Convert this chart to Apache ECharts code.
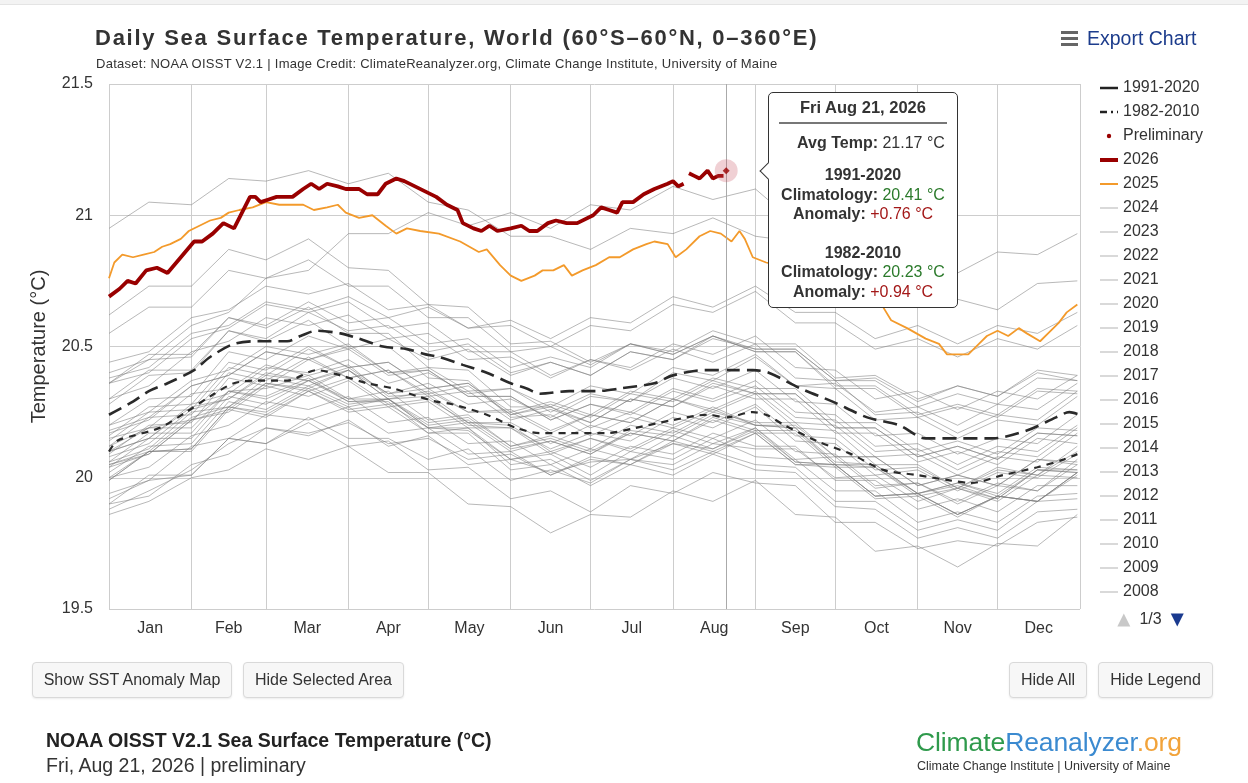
<!DOCTYPE html>
<html>
<head>
<meta charset="utf-8">
<script src="https://cdn.jsdelivr.net/npm/echarts@6/dist/echarts.min.js"></script>
<style>
html,body{margin:0;padding:0;background:#fff;}
body{width:1248px;height:783px;position:relative;overflow:hidden;font-family:'Liberation Sans',Arial,sans-serif;color:#333;}
#topbar{position:absolute;left:0;top:0;width:1248px;height:4px;background:#f3f3f3;border-bottom:1px solid #e4e4e4;z-index:2;}
#chart{position:absolute;left:0;top:0;width:1248px;height:783px;}
#title{position:absolute;left:95px;top:25px;font-size:22px;line-height:26px;font-weight:bold;letter-spacing:1.75px;color:#333;white-space:nowrap;z-index:2;}
#subtitle{position:absolute;left:96px;top:56px;font-size:13px;line-height:16px;letter-spacing:0.27px;color:#333;white-space:nowrap;z-index:2;}
.btn{position:absolute;top:662px;height:36px;box-sizing:border-box;border:1px solid #d9d9d9;border-radius:4px;background:#f7f7f7;font-size:16px;line-height:34px;text-align:center;color:#333;box-shadow:0 1px 2px rgba(0,0,0,0.08);z-index:2;}
#export{position:absolute;left:1060px;top:26px;height:24px;z-index:2;}
#export .bars{position:absolute;left:1px;top:5px;width:17px;}
#export .bars div{height:3px;background:#666;margin-bottom:3px;}
#export .txt{position:absolute;left:27px;top:0;font-size:19.5px;line-height:24px;color:#1c3c8c;white-space:nowrap;}
#foot1{position:absolute;left:46px;top:729px;font-size:19.5px;font-weight:bold;color:#222;white-space:nowrap;z-index:2;}
#foot2{position:absolute;left:46px;top:754px;font-size:19.5px;color:#333;white-space:nowrap;z-index:2;}
#logo{position:absolute;left:916px;top:727px;font-size:26.5px;white-space:nowrap;z-index:2;letter-spacing:-0.1px;}
#logo2{position:absolute;left:917px;top:759px;font-size:12.5px;color:#333;white-space:nowrap;z-index:2;}
</style>
</head>
<body>
<div id="topbar"></div>
<div id="chart"></div>
<div id="title">Daily Sea Surface Temperature, World (60°S–60°N, 0–360°E)</div>
<div id="subtitle">Dataset: NOAA OISST V2.1 | Image Credit: ClimateReanalyzer.org, Climate Change Institute, University of Maine</div>
<div id="export"><div class="bars"><div></div><div></div><div></div></div><div class="txt">Export Chart</div></div>
<div class="btn" style="left:32px;width:200px;">Show SST Anomaly Map</div>
<div class="btn" style="left:243px;width:161px;">Hide Selected Area</div>
<div class="btn" style="left:1009px;width:78px;">Hide All</div>
<div class="btn" style="left:1098px;width:115px;">Hide Legend</div>
<div id="foot1">NOAA OISST V2.1 Sea Surface Temperature (°C)</div>
<div id="foot2">Fri, Aug 21, 2026 | preliminary</div>
<div id="logo"><span style="color:#2f9a4c">Climate</span><span style="color:#3b8ad0">Reanalyzer</span><span style="color:#f2a33a">.org</span></div>
<div id="logo2">Climate Change Institute | University of Maine</div>
<script>
// ---------- axis definitions ----------
const monthNames = ['Jan','Feb','Mar','Apr','May','Jun','Jul','Aug','Sep','Oct','Nov','Dec'];
const monthStarts = [0,31,59,90,120,151,181,212,243,273,304,334,365];
const monthMids = [15.5,45,74.5,105,135.5,166,196.5,227.5,258,288.5,319,349.5];
const yMin = 19.5, yMax = 21.5, yStep = 0.5;

// ---------- climatologies ----------
const days9120 = [0,9,15,22,32,38,47,56,67,72,78,87,94,103,112,119,124,133,142,151,157,162,173,183,192,205,212,224,232,242,248,260,272,285,297,307,320,332,345,356,361,365];
const clim9120 = [20.24,20.29,20.33,20.36,20.41,20.46,20.51,20.52,20.52,20.54,20.56,20.55,20.53,20.50,20.49,20.47,20.46,20.43,20.40,20.36,20.34,20.32,20.33,20.33,20.34,20.36,20.39,20.41,20.41,20.41,20.40,20.34,20.29,20.23,20.20,20.15,20.15,20.15,20.18,20.23,20.25,20.24];
const days8210 = [0,3,9,19,29,38,47,56,67,78,87,97,107,116,123,129,142,153,162,173,187,198,212,225,232,242,247,254,266,279,291,304,316,324,336,349,359,364];
const clim8210 = [20.10,20.14,20.16,20.19,20.25,20.31,20.36,20.37,20.37,20.41,20.39,20.36,20.34,20.31,20.29,20.28,20.24,20.19,20.17,20.17,20.17,20.19,20.22,20.24,20.23,20.25,20.24,20.20,20.14,20.09,20.03,20.01,19.99,19.98,20.01,20.04,20.07,20.09];

// ---------- 2026 (null = missing day) ----------
const days2026 = [0,4,7,10,14,18,22,27,32,35,39,43,47,50,53,55,57,60,63,69,73,76,79,82,86,89,94,97,101,104,108,111,115,119,123,127,131,133,137,140,143,146,151,155,158,161,165,168,172,176,182,185,188,191,193,197,201,205,210,212,214,216,217,218,220,222,225,227,229,231];
const sst2026 = [20.69,20.72,20.75,20.74,20.79,20.80,20.78,20.84,20.90,20.90,20.93,20.97,20.95,21.01,21.07,21.07,21.05,21.06,21.07,21.07,21.10,21.12,21.10,21.12,21.11,21.10,21.10,21.08,21.08,21.12,21.14,21.13,21.11,21.09,21.07,21.04,21.02,20.97,20.95,20.94,20.96,20.94,20.95,20.96,20.94,20.94,20.97,20.98,20.97,20.97,21.00,21.03,21.02,21.01,21.05,21.05,21.08,21.10,21.12,21.13,21.11,21.12,null,21.16,21.15,21.14,21.17,21.14,21.15,21.15];
const prelimDay = [232];
const prelimVal = [21.17];

// ---------- 2025 ----------
const days2025 = [0,2,5,9,13,17,20,23,27,30,34,38,42,45,49,54,59,64,69,73,77,82,86,89,94,99,104,108,112,117,124,132,139,142,147,151,155,160,163,167,171,174,178,183,188,192,197,202,205,210,213,217,222,226,230,234,237,239,242,247,255,265,275,285,291,294,300,307,312,315,319,323,327,330,334,338,342,345,350,353,357,360,364];
const sst2025 = [20.76,20.82,20.85,20.84,20.85,20.86,20.88,20.89,20.91,20.94,20.96,20.98,20.99,21.01,21.02,21.03,21.05,21.04,21.04,21.04,21.02,21.03,21.04,21.01,20.99,21.00,20.96,20.93,20.95,20.94,20.93,20.90,20.86,20.87,20.81,20.77,20.75,20.77,20.79,20.79,20.81,20.77,20.79,20.81,20.84,20.84,20.87,20.89,20.90,20.89,20.84,20.87,20.92,20.94,20.93,20.90,20.94,20.91,20.84,20.82,20.80,20.77,20.74,20.70,20.65,20.60,20.57,20.53,20.51,20.47,20.47,20.47,20.51,20.54,20.56,20.54,20.57,20.55,20.52,20.55,20.59,20.63,20.66];

// ---------- earlier years (sampled) ----------
const sampleDays = [0,15,31,45,59,75,90,105,120,135,151,166,181,196,212,227,243,258,273,288,304,319,334,349,364];
const sst1982 = [19.88,19.95,20.03,20.13,20.19,20.16,20.22,20.12,20.16,20.05,20.07,20.02,20.06,20.07,20.13,20.11,20.19,20.07,20.08,19.96,19.98,19.91,19.98,19.95,20.07];
const sst1983 = [20.12,20.19,20.22,20.33,20.34,20.39,20.30,20.30,20.19,20.18,20.07,20.09,20.01,20.10,20.07,20.15,20.08,20.07,19.95,19.95,19.83,19.87,19.83,19.93,19.94];
const sst1984 = [19.92,19.99,20.01,20.15,20.13,20.21,20.12,20.14,20.03,20.04,19.92,19.95,19.87,19.97,19.94,20.02,19.98,19.97,19.83,19.83,19.73,19.76,19.74,19.83,19.85];
const sst1985 = [19.86,19.91,20.00,20.03,20.11,20.07,20.12,20.02,20.02,19.90,19.89,19.79,19.86,19.85,19.95,19.91,19.99,19.86,19.85,19.72,19.74,19.66,19.75,19.74,19.86];
const sst1986 = [19.90,20.01,20.01,20.15,20.13,20.23,20.15,20.15,20.07,20.11,19.99,20.03,19.98,20.07,20.05,20.13,20.11,20.11,20.00,20.01,19.91,19.96,19.92,20.03,20.03];
const sst1987 = [20.06,20.11,20.25,20.27,20.38,20.35,20.41,20.30,20.33,20.25,20.25,20.17,20.24,20.21,20.30,20.25,20.32,20.19,20.18,20.05,20.05,19.96,20.04,20.01,20.10];
const sst1988 = [20.10,20.19,20.19,20.33,20.31,20.38,20.29,20.29,20.17,20.17,20.03,20.05,19.97,20.05,20.01,20.09,20.03,20.02,19.89,19.88,19.77,19.81,19.77,19.87,19.88];
const sst1989 = [19.90,19.93,20.05,20.09,20.19,20.17,20.21,20.13,20.15,20.07,20.09,20.01,20.07,20.05,20.13,20.09,20.17,20.05,20.04,19.92,19.93,19.85,19.93,19.91,20.02];
const sst1990 = [20.04,20.15,20.15,20.31,20.28,20.37,20.30,20.33,20.22,20.24,20.12,20.15,20.10,20.17,20.14,20.22,20.17,20.17,20.04,20.04,19.94,19.97,19.92,20.03,20.02];
const sst1991 = [20.05,20.09,20.22,20.25,20.35,20.31,20.37,20.27,20.29,20.19,20.19,20.11,20.17,20.14,20.23,20.19,20.27,20.14,20.13,20.01,20.03,19.95,20.02,20.00,20.09];
const sst1992 = [20.06,20.17,20.17,20.33,20.30,20.37,20.29,20.30,20.19,20.19,20.05,20.07,19.99,20.07,20.03,20.10,20.05,20.04,19.91,19.91,19.80,19.84,19.80,19.91,19.92];
const sst1993 = [19.94,19.99,20.12,20.15,20.24,20.22,20.27,20.17,20.19,20.09,20.10,20.01,20.08,20.05,20.14,20.10,20.17,20.05,20.05,19.93,19.94,19.86,19.93,19.91,20.01];
const sst1994 = [19.99,20.10,20.10,20.26,20.23,20.33,20.26,20.28,20.19,20.21,20.10,20.14,20.09,20.18,20.16,20.24,20.20,20.20,20.08,20.08,19.97,20.01,19.97,20.07,20.06];
const sst1995 = [20.10,20.15,20.27,20.30,20.40,20.37,20.41,20.30,20.31,20.20,20.19,20.09,20.15,20.11,20.19,20.15,20.22,20.10,20.09,19.97,19.98,19.90,19.97,19.95,20.05];
const sst1996 = [20.00,20.10,20.11,20.27,20.24,20.33,20.25,20.27,20.17,20.19,20.07,20.10,20.04,20.12,20.09,20.17,20.12,20.12,19.99,19.99,19.88,19.92,19.87,19.97,19.97];
const sst1997 = [20.04,20.09,20.22,20.26,20.36,20.34,20.41,20.32,20.36,20.28,20.30,20.23,20.31,20.29,20.40,20.37,20.46,20.35,20.36,20.25,20.27,20.20,20.28,20.26,20.36];
const sst1998 = [20.36,20.47,20.47,20.61,20.57,20.65,20.55,20.55,20.42,20.41,20.27,20.27,20.19,20.25,20.20,20.27,20.20,20.19,20.05,20.04,19.93,19.96,19.91,20.01,20.00];
const sst1999 = [20.00,20.04,20.16,20.20,20.29,20.26,20.31,20.21,20.23,20.13,20.14,20.05,20.11,20.07,20.16,20.11,20.18,20.06,20.05,19.93,19.94,19.86,19.93,19.91,20.02];
const sst2000 = [20.02,20.12,20.13,20.29,20.26,20.35,20.28,20.30,20.20,20.22,20.11,20.14,20.09,20.17,20.14,20.23,20.18,20.18,20.05,20.05,19.94,19.98,19.94,20.04,20.03];
const sst2001 = [20.08,20.13,20.26,20.30,20.39,20.37,20.42,20.32,20.34,20.25,20.26,20.18,20.24,20.21,20.30,20.26,20.33,20.21,20.20,20.08,20.09,20.01,20.08,20.06,20.17];
const sst2002 = [20.14,20.25,20.26,20.42,20.39,20.49,20.42,20.44,20.34,20.36,20.25,20.29,20.24,20.33,20.30,20.38,20.34,20.34,20.21,20.21,20.10,20.14,20.09,20.19,20.18];
const sst2003 = [20.20,20.25,20.37,20.41,20.50,20.47,20.51,20.40,20.41,20.31,20.31,20.22,20.28,20.25,20.34,20.30,20.37,20.25,20.24,20.12,20.13,20.05,20.12,20.10,20.20];
const sst2004 = [20.16,20.27,20.28,20.44,20.41,20.50,20.42,20.44,20.34,20.36,20.24,20.27,20.21,20.30,20.27,20.35,20.30,20.30,20.17,20.17,20.06,20.10,20.05,20.15,20.13];
const sst2005 = [20.17,20.22,20.35,20.39,20.48,20.45,20.49,20.39,20.41,20.31,20.31,20.22,20.28,20.24,20.33,20.29,20.35,20.23,20.22,20.10,20.11,20.03,20.10,20.08,20.19];
const sst2006 = [20.12,20.23,20.24,20.40,20.37,20.46,20.38,20.41,20.31,20.33,20.22,20.26,20.21,20.30,20.27,20.36,20.32,20.32,20.19,20.19,20.08,20.12,20.07,20.17,20.16];
const sst2007 = [20.15,20.19,20.32,20.34,20.43,20.39,20.43,20.31,20.32,20.21,20.20,20.10,20.15,20.10,20.18,20.13,20.19,20.06,20.05,19.93,19.94,19.86,19.93,19.91,20.02];
const sst2008 = [19.99,20.10,20.11,20.27,20.25,20.34,20.27,20.30,20.21,20.23,20.12,20.16,20.11,20.20,20.17,20.25,20.21,20.21,20.08,20.08,19.97,20.01,19.97,20.07,20.05];
const sst2009 = [20.10,20.15,20.28,20.32,20.42,20.40,20.45,20.36,20.40,20.32,20.34,20.27,20.35,20.32,20.42,20.39,20.47,20.35,20.34,20.22,20.23,20.15,20.22,20.20,20.31];
const sst2010 = [20.30,20.41,20.41,20.56,20.52,20.60,20.50,20.50,20.38,20.37,20.23,20.24,20.16,20.23,20.19,20.26,20.20,20.19,20.06,20.05,19.94,19.98,19.93,20.03,20.02];
const sst2011 = [20.05,20.10,20.23,20.27,20.36,20.33,20.38,20.28,20.30,20.21,20.21,20.13,20.20,20.16,20.25,20.21,20.28,20.16,20.15,20.03,20.04,19.96,20.03,20.01,20.12];
const sst2012 = [20.09,20.20,20.21,20.38,20.35,20.45,20.38,20.41,20.32,20.35,20.24,20.28,20.23,20.32,20.29,20.37,20.32,20.32,20.19,20.19,20.08,20.12,20.07,20.17,20.16];
const sst2013 = [20.18,20.23,20.35,20.39,20.48,20.45,20.50,20.40,20.42,20.33,20.34,20.25,20.32,20.29,20.38,20.34,20.41,20.29,20.28,20.16,20.17,20.09,20.15,20.13,20.24];
const sst2014 = [20.20,20.30,20.31,20.48,20.45,20.54,20.49,20.53,20.45,20.49,20.39,20.44,20.39,20.48,20.45,20.53,20.49,20.49,20.37,20.37,20.27,20.32,20.28,20.38,20.37];
const sst2015 = [20.38,20.42,20.55,20.58,20.67,20.64,20.69,20.61,20.65,20.57,20.60,20.53,20.61,20.59,20.69,20.65,20.73,20.63,20.63,20.53,20.58,20.51,20.58,20.55,20.63];
const sst2016 = [20.62,20.73,20.73,20.87,20.83,20.91,20.80,20.79,20.66,20.65,20.51,20.52,20.44,20.51,20.47,20.54,20.48,20.48,20.35,20.35,20.24,20.28,20.24,20.34,20.33];
const sst2017 = [20.36,20.40,20.53,20.57,20.66,20.63,20.67,20.57,20.59,20.48,20.48,20.39,20.45,20.41,20.49,20.44,20.51,20.38,20.37,20.24,20.25,20.17,20.24,20.22,20.33];
const sst2018 = [20.28,20.39,20.40,20.56,20.53,20.63,20.56,20.58,20.48,20.51,20.40,20.44,20.39,20.48,20.45,20.54,20.49,20.49,20.37,20.38,20.29,20.35,20.31,20.41,20.39];
const sst2019 = [20.44,20.48,20.61,20.64,20.73,20.70,20.74,20.64,20.66,20.57,20.58,20.50,20.58,20.56,20.66,20.63,20.71,20.59,20.59,20.49,20.53,20.46,20.53,20.49,20.58];
const sst2020 = [20.55,20.65,20.65,20.79,20.76,20.83,20.73,20.73,20.61,20.61,20.48,20.50,20.43,20.51,20.47,20.54,20.48,20.48,20.34,20.34,20.23,20.27,20.23,20.33,20.32];
const sst2021 = [20.30,20.35,20.48,20.52,20.61,20.58,20.62,20.53,20.55,20.45,20.46,20.38,20.45,20.42,20.51,20.47,20.54,20.42,20.41,20.30,20.33,20.26,20.33,20.30,20.39];
const sst2022 = [20.36,20.45,20.46,20.61,20.58,20.67,20.59,20.61,20.51,20.53,20.42,20.46,20.42,20.51,20.48,20.56,20.51,20.51,20.38,20.39,20.30,20.35,20.31,20.40,20.37];
const sst2023 = [20.40,20.45,20.58,20.63,20.76,20.79,20.93,20.93,21.01,20.96,21.01,20.95,21.04,21.02,21.11,21.06,21.10,20.97,20.95,20.83,20.85,20.78,20.86,20.85,20.93];
const sst2024 = [20.95,21.05,21.04,21.14,21.13,21.17,21.12,21.16,21.05,21.02,20.92,20.92,20.87,20.95,20.93,20.99,20.92,20.90,20.77,20.75,20.65,20.68,20.64,20.74,20.75];

const grayYears = [
  ['2024',sst2024],['2023',sst2023],['2022',sst2022],['2021',sst2021],['2020',sst2020],['2019',sst2019],
  ['2018',sst2018],['2017',sst2017],['2016',sst2016],['2015',sst2015],['2014',sst2014],['2013',sst2013],
  ['2012',sst2012],['2011',sst2011],['2010',sst2010],['2009',sst2009],['2008',sst2008],['2007',sst2007],
  ['2006',sst2006],['2005',sst2005],['2004',sst2004],['2003',sst2003],['2002',sst2002],['2001',sst2001],
  ['2000',sst2000],['1999',sst1999],['1998',sst1998],['1997',sst1997],['1996',sst1996],['1995',sst1995],
  ['1994',sst1994],['1993',sst1993],['1992',sst1992],['1991',sst1991],['1990',sst1990],['1989',sst1989],
  ['1988',sst1988],['1987',sst1987],['1986',sst1986],['1985',sst1985],['1984',sst1984],['1983',sst1983],
  ['1982',sst1982]
];

// ---------- tooltip text ----------
const tipDate = 'Fri Aug 21, 2026';
const tipClim9120 = 20.41;
const tipClim8210 = 20.23;

// ---------- build ----------
const FONT = "'Liberation Sans', Arial, sans-serif";
const pair = (days, vals) => days.map((d, i) => [d, vals[i] === null ? '-' : vals[i]]);

const series = [];
grayYears.forEach(([name, arr]) => {
  series.push({
    name, type: 'line', data: pair(sampleDays, arr), symbol: 'none', silent: true, z: 1,
    lineStyle: { color: 'rgba(125,125,125,0.55)', width: 1 },
    itemStyle: { color: '#bbb' }
  });
});
series.push({
  name: '1982-2010', type: 'line', data: pair(days8210, clim8210), symbol: 'none', smooth: 0.3, silent: true, z: 3,
  lineStyle: { color: '#2a2a2a', width: 2.2, type: [7, 6] }, itemStyle: { color: '#2a2a2a' }
});
series.push({
  name: '1991-2020', type: 'line', data: pair(days9120, clim9120), symbol: 'none', smooth: 0.3, silent: true, z: 3,
  lineStyle: { color: '#2a2a2a', width: 2.6, type: [14, 7] }, itemStyle: { color: '#2a2a2a' }
});
series.push({
  name: '2025', type: 'line', data: pair(days2025, sst2025), symbol: 'none', silent: true, z: 4,
  lineStyle: { color: '#f39a2b', width: 1.8 }, itemStyle: { color: '#f39a2b' }
});
series.push({
  name: '2026', type: 'line', data: pair(days2026, sst2026), symbol: 'none', silent: true, z: 5, connectNulls: false,
  lineStyle: { color: '#990000', width: 3.8 }, itemStyle: { color: '#990000' }
});
const prelimIndex = series.length;
series.push({
  name: 'Preliminary', type: 'scatter', z: 6,
  data: [
    { value: [prelimDay[0], prelimVal[0]], symbol: 'circle', symbolSize: 23, itemStyle: { color: 'rgba(196,72,88,0.32)' } },
    { value: [prelimDay[0], prelimVal[0]], symbol: 'diamond', symbolSize: 7 }
  ],
  itemStyle: { color: '#990000' },
  emphasis: { disabled: true },
  markLine: {
    silent: true, symbol: 'none', label: { show: false },
    lineStyle: { color: '#aaa', width: 1, type: 'solid' },
    data: [{ xAxis: prelimDay[0] }]
  }
});

const grayLegend = grayYears.map(([name]) => ({ name, lineStyle: { color: '#cccccc', width: 1.5 } }));
const legendData = [
  { name: '1991-2020', lineStyle: { type: 'solid', width: 2.5, color: '#222' } },
  { name: '1982-2010', lineStyle: { type: [7, 4, 2, 4], width: 2.5, color: '#222' } },
  { name: 'Preliminary', icon: 'path://M0,0M18,14M6.8,7a2.2,2.2 0 1,0 4.4,0a2.2,2.2 0 1,0 -4.4,0z', itemStyle: { color: '#990000', opacity: 1 } },
  { name: '2026', lineStyle: { width: 4, color: '#990000' } },
  { name: '2025', lineStyle: { width: 2, color: '#f39a2b' } }
].concat(grayLegend);

const fmtAnom = v => (v >= 0 ? '+' : '') + v.toFixed(2);

const chart = echarts.init(document.getElementById('chart'), null, { renderer: 'canvas' });
chart.setOption({
  animation: false,
  textStyle: { fontFamily: FONT },
  grid: { left: 109, right: 168, top: 84, bottom: 174 },
  xAxis: {
    type: 'value', min: monthStarts[0], max: monthStarts[12],
    axisLine: { show: false },
    axisTick: { show: false, customValues: monthStarts },
    splitLine: { show: true, lineStyle: { color: '#cdcdcd', width: 1 } },
    axisLabel: {
      customValues: monthMids, fontSize: 16, color: '#333', margin: 12, fontFamily: FONT,
      formatter: v => monthNames[monthMids.indexOf(v)] || ''
    }
  },
  yAxis: {
    type: 'value', min: yMin, max: yMax, interval: yStep,
    name: 'Temperature (°C)', nameLocation: 'middle', nameGap: 60,
    nameTextStyle: { fontSize: 20, color: '#333', fontFamily: FONT },
    axisLine: { show: false }, axisTick: { show: false },
    axisLabel: { fontSize: 16, color: '#333', margin: 16, fontFamily: FONT },
    splitLine: { lineStyle: { color: '#cdcdcd', width: 1 } }
  },
  legend: {
    type: 'scroll', orient: 'vertical', left: 1093, top: 75, height: 548,
    itemWidth: 18, itemHeight: 14, itemGap: 8,
    itemStyle: { opacity: 0 },
    textStyle: { fontSize: 16, color: '#333', fontFamily: FONT },
    pageButtonPosition: 'end', pageButtonItemGap: 2, pageButtonGap: 10,
    pageIconColor: '#1a3a8f', pageIconInactiveColor: '#c8c8c8', pageIconSize: 13,
    pageTextStyle: { fontSize: 16, color: '#333', fontFamily: FONT },
    pageFormatter: '{current}/{total}',
    data: legendData
  },
  tooltip: {
    trigger: 'item', triggerOn: 'none', alwaysShowContent: true, transitionDuration: 0,
    backgroundColor: '#fff', borderColor: '#333', borderWidth: 1, borderRadius: 5, padding: [4, 10, 6, 10],
    extraCssText: 'box-shadow:none;width:168px;',
    textStyle: { fontSize: 16, color: '#333', fontFamily: FONT },
    position: point => [point[0] + 42, point[1] - 79],
    formatter: p => {
      const v = p.value[1];
      const g = 'color:#2b7a2b', r = 'color:#a31818';
      return '<div style="position:absolute;left:-7px;top:72px;width:11px;height:11px;background:#fff;border-left:1px solid #333;border-bottom:1px solid #333;transform:rotate(45deg);"></div>' +
        '<div style="text-align:center;font-size:16.5px;font-weight:bold;line-height:20px;padding-bottom:5px;border-bottom:2px solid #777;margin-bottom:9px;">' + tipDate + '</div>' +
        '<div style="text-align:center;line-height:20px;padding-left:16px;"><b>Avg Temp:</b> ' + v.toFixed(2) + ' °C</div>' +
        '<div style="height:12px"></div>' +
        '<div style="text-align:center;line-height:19.5px;"><b>1991-2020</b><br><b>Climatology:</b> <span style="' + g + '">' + tipClim9120.toFixed(2) + ' °C</span><br><b>Anomaly:</b> <span style="' + r + '">' + fmtAnom(v - tipClim9120) + ' °C</span></div>' +
        '<div style="height:19px"></div>' +
        '<div style="text-align:center;line-height:19.5px;"><b>1982-2010</b><br><b>Climatology:</b> <span style="' + g + '">' + tipClim8210.toFixed(2) + ' °C</span><br><b>Anomaly:</b> <span style="' + r + '">' + fmtAnom(v - tipClim8210) + ' °C</span></div>';
    }
  },
  series
});
chart.dispatchAction({ type: 'showTip', seriesIndex: prelimIndex, dataIndex: 1 });
</script>
</body>
</html>
